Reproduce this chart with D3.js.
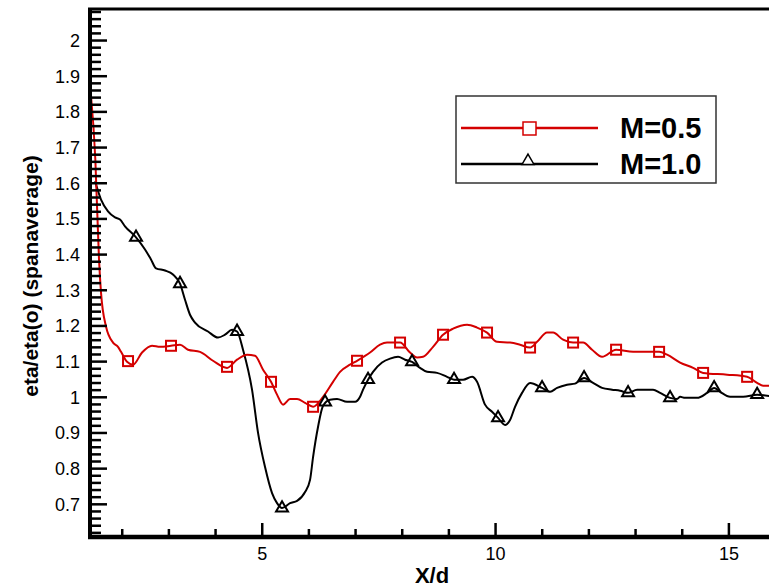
<!DOCTYPE html>
<html>
<head>
<meta charset="utf-8">
<script src="https://cdn.jsdelivr.net/npm/d3@7"></script>
<style>
  html, body { margin: 0; padding: 0; background: #fff; }
  svg { display: block; font-family: "Liberation Sans", Arial, sans-serif; }
</style>
</head>
<body>
<svg id="chart" width="769" height="588"></svg>
<script>
// Span-averaged effectiveness ratio along X/d for two blowing ratios
const seriesNames = ["M=0.5", "M=1.0"];

const xM05 = [1.33, 1.434, 1.513, 1.556, 1.663, 1.813, 1.92, 1.985, 2.113, 2.242, 2.435, 2.649, 2.82, 3.056, 3.249, 3.42, 3.678, 3.956, 4.256, 4.471, 4.685, 4.856, 5.028, 5.199, 5.328, 5.456, 5.607, 5.757, 5.928, 6.1, 6.314, 6.528, 6.678, 6.892, 7.042, 7.321, 7.535, 7.685, 7.964, 8.178, 8.328, 8.457, 8.671, 8.885, 9.1, 9.4, 9.614, 9.828, 10.042, 10.321, 10.535, 10.75, 10.9, 11.114, 11.243, 11.457, 11.672, 11.886, 12.079, 12.293, 12.593, 12.958, 13.515, 13.686, 13.965, 14.244, 14.458, 14.973, 15.401, 15.615, 15.744, 15.95];
const yM05 = [1.86, 1.666, 1.385, 1.292, 1.197, 1.152, 1.14, 1.126, 1.098, 1.09, 1.124, 1.143, 1.14, 1.143, 1.146, 1.132, 1.126, 1.101, 1.081, 1.104, 1.118, 1.115, 1.076, 1.042, 1.006, 0.978, 0.994, 0.994, 0.983, 0.972, 1.0, 1.042, 1.07, 1.09, 1.101, 1.124, 1.146, 1.152, 1.152, 1.124, 1.11, 1.112, 1.14, 1.174, 1.191, 1.202, 1.194, 1.18, 1.154, 1.152, 1.146, 1.138, 1.154, 1.18, 1.18, 1.16, 1.152, 1.152, 1.132, 1.112, 1.132, 1.126, 1.126, 1.118, 1.096, 1.081, 1.067, 1.062, 1.056, 1.039, 1.031, 1.031];

const xM10 = [1.428, 1.556, 1.706, 1.856, 1.963, 2.07, 2.306, 2.499, 2.627, 2.735, 2.927, 3.099, 3.249, 3.356, 3.463, 3.57, 3.849, 4.063, 4.213, 4.363, 4.471, 4.599, 4.792, 4.921, 5.071, 5.221, 5.328, 5.435, 5.607, 5.757, 5.928, 6.035, 6.1, 6.207, 6.314, 6.464, 6.614, 6.828, 6.999, 7.107, 7.171, 7.278, 7.385, 7.578, 7.75, 7.921, 8.071, 8.221, 8.393, 8.543, 8.757, 8.971, 9.121, 9.314, 9.507, 9.614, 9.785, 9.935, 10.064, 10.214, 10.321, 10.428, 10.578, 10.75, 11.007, 11.179, 11.329, 11.543, 11.714, 11.907, 12.1, 12.293, 12.507, 12.679, 12.85, 13.043, 13.386, 13.536, 13.75, 13.9, 13.965, 14.072, 14.329, 14.544, 14.694, 14.822, 15.037, 15.316, 15.616, 15.95];
const yM10 = [1.604, 1.553, 1.52, 1.503, 1.497, 1.478, 1.447, 1.413, 1.385, 1.36, 1.354, 1.343, 1.317, 1.272, 1.23, 1.208, 1.183, 1.166, 1.174, 1.188, 1.183, 1.132, 1.02, 0.899, 0.803, 0.73, 0.702, 0.688, 0.702, 0.708, 0.733, 0.767, 0.831, 0.916, 0.975, 0.992, 0.994, 0.986, 0.986, 1.0, 1.02, 1.048, 1.07, 1.096, 1.107, 1.112, 1.104, 1.098, 1.081, 1.07, 1.067, 1.056, 1.048, 1.048, 1.056, 1.042, 0.978, 0.958, 0.941, 0.921, 0.935, 0.972, 1.011, 1.039, 1.025, 1.014, 1.025, 1.034, 1.037, 1.053, 1.039, 1.025, 1.02, 1.017, 1.011, 1.02, 1.02, 1.011, 0.997, 0.994, 1.0, 0.997, 0.997, 1.011, 1.025, 1.014, 1.0, 1.0, 1.006, 1.0];

// Symbol positions along each curve
const markM05X = [2.135, 3.056, 4.256, 5.199, 6.1, 7.042, 7.964, 8.885, 9.828, 10.75, 11.672, 12.593, 13.515, 14.458, 15.401];
const markM05Y = [1.1, 1.143, 1.084, 1.042, 0.972, 1.101, 1.152, 1.174, 1.18, 1.138, 1.152, 1.132, 1.126, 1.067, 1.056];
const markM10X = [2.306, 3.249, 4.471, 5.435, 6.357, 7.278, 8.221, 9.121, 10.064, 11.007, 11.907, 12.85, 13.75, 14.694, 15.616];
const markM10Y = [1.447, 1.317, 1.183, 0.688, 0.985, 1.048, 1.098, 1.048, 0.941, 1.025, 1.053, 1.011, 0.997, 1.025, 1.006];

const xMajorTicks = [5, 10, 15];
const xMinorTicks = [2, 3, 4, 6, 7, 8, 9, 11, 12, 13, 14];
const yMajorTicks = [0.7, 0.8, 0.9, 1, 1.1, 1.2, 1.3, 1.4, 1.5, 1.6, 1.7, 1.8, 1.9, 2];
const yMinorTicks = d3.range(31, 105).map(i => +(i * 0.02).toFixed(2)).filter(v => Math.abs(v * 10 - Math.round(v * 10)) > 1e-6);

const xTitle = "X/d";
const yTitle = "eta/eta(o) (spanaverage)";

const red = "#d40000";
const svg = d3.select("#chart");

const x = d3.scaleLinear().domain([1.32, 15.87]).range([90, 769]);
const y = d3.scaleLinear().domain([0.607, 2.087]).range([537, 9]);

svg.append("defs").append("clipPath").attr("id", "plotClip")
  .append("rect").attr("x", 92).attr("y", 9).attr("width", 680).attr("height", 528);

// Curves
const line = d3.line().x(d => x(d[0])).y(d => y(d[1])).curve(d3.curveMonotoneX);
const plot = svg.append("g").attr("clip-path", "url(#plotClip)");

const dataM05 = xM05.map((v, i) => [v, yM05[i]]);
const dataM10 = xM10.map((v, i) => [v, yM10[i]]);

plot.append("path").datum(dataM10).attr("d", line)
  .attr("fill", "none").attr("stroke", "#000").attr("stroke-width", 2);
plot.append("path").datum(dataM05).attr("d", line)
  .attr("fill", "none").attr("stroke", red).attr("stroke-width", 2);

const tri = d3.symbol().type(d3.symbolTriangle).size(62);

plot.selectAll(".tri").data(markM10X.map((v, i) => [v, markM10Y[i]])).join("path")
  .attr("transform", d => `translate(${x(d[0])},${y(d[1])})`)
  .attr("d", tri)
  .attr("fill", "none").attr("stroke", "#000").attr("stroke-width", 2);

plot.selectAll(".sq").data(markM05X.map((v, i) => [v, markM05Y[i]])).join("rect")
  .attr("x", d => x(d[0]) - 5).attr("y", d => y(d[1]) - 5)
  .attr("width", 10).attr("height", 10)
  .attr("fill", "none").attr("stroke", red).attr("stroke-width", 2);

// Axes with inward ticks
const xAxisMajor = d3.axisBottom(x).tickValues(xMajorTicks).tickSize(-14).tickPadding(10).tickFormat(d3.format("d"));
const xAxisMinor = d3.axisBottom(x).tickValues(xMinorTicks).tickSize(-8).tickFormat("");
const yAxisMajor = d3.axisLeft(y).tickValues(yMajorTicks).tickSize(-17).tickPadding(10).tickFormat(d => d3.format("")(d));
const yAxisMinor = d3.axisLeft(y).tickValues(yMinorTicks).tickSize(-11).tickFormat("");

function styleAxis(g) {
  g.select(".domain").remove();
  g.selectAll(".tick line").attr("stroke", "#000").attr("stroke-width", 2.5);
  g.selectAll(".tick text").attr("font-size", 18).attr("fill", "#000")
    .attr("font-family", "'Liberation Sans', Arial, sans-serif");
}

svg.append("g").attr("transform", "translate(0,537)").call(xAxisMinor).call(styleAxis);
svg.append("g").attr("transform", "translate(0,537)").call(xAxisMajor).call(styleAxis);
svg.append("g").attr("transform", "translate(90,0)").call(yAxisMinor).call(styleAxis);
svg.append("g").attr("transform", "translate(90,0)").call(yAxisMajor).call(styleAxis)
  .selectAll(".tick text").attr("dy", "0.35em");

// Frame
const [x0, x1] = x.range();
const [yb, yt] = y.range();
svg.append("line").attr("x1", x0).attr("x2", x0).attr("y1", yt - 1).attr("y2", yb + 2)
  .attr("stroke", "#000").attr("stroke-width", 4);
svg.append("line").attr("x1", x0 - 2).attr("x2", x1).attr("y1", yb).attr("y2", yb)
  .attr("stroke", "#000").attr("stroke-width", 4.5);
svg.append("line").attr("x1", x0 - 2).attr("x2", x1).attr("y1", yt).attr("y2", yt)
  .attr("stroke", "#000").attr("stroke-width", 3);

// Axis titles
svg.append("text").attr("x", 432).attr("y", 583).attr("text-anchor", "middle")
  .attr("font-size", 22).attr("font-weight", "bold").text(xTitle);
svg.append("text").attr("transform", "translate(38,276) rotate(-90)").attr("text-anchor", "middle")
  .attr("font-size", 21).attr("font-weight", "bold").text(yTitle);

// Legend
const legend = svg.append("g");
legend.append("rect").attr("x", 456).attr("y", 96).attr("width", 260).attr("height", 87)
  .attr("fill", "#fff").attr("stroke", "#333").attr("stroke-width", 1.5);
const rows = [
  { name: seriesNames[0], color: red, sym: "square", ly: 128, ty: 138 },
  { name: seriesNames[1], color: "#000", sym: "triangle", ly: 164, ty: 174 }
];
rows.forEach(r => {
  legend.append("line").attr("x1", 461).attr("x2", 598).attr("y1", r.ly).attr("y2", r.ly)
    .attr("stroke", r.color).attr("stroke-width", 2.5);
  if (r.sym === "square") {
    legend.append("rect").attr("x", 523).attr("y", r.ly - 6).attr("width", 13).attr("height", 13)
      .attr("fill", "#fff").attr("stroke", r.color).attr("stroke-width", 1.5);
  } else {
    legend.append("path").attr("transform", `translate(528,${r.ly - 3})`).attr("d", tri)
      .attr("fill", "#fff").attr("stroke", r.color).attr("stroke-width", 1.5);
  }
  legend.append("text").attr("x", 620).attr("y", r.ty).attr("font-size", 29)
    .attr("font-weight", "bold").attr("fill", "#000").text(r.name);
});
</script>
</body>
</html>
